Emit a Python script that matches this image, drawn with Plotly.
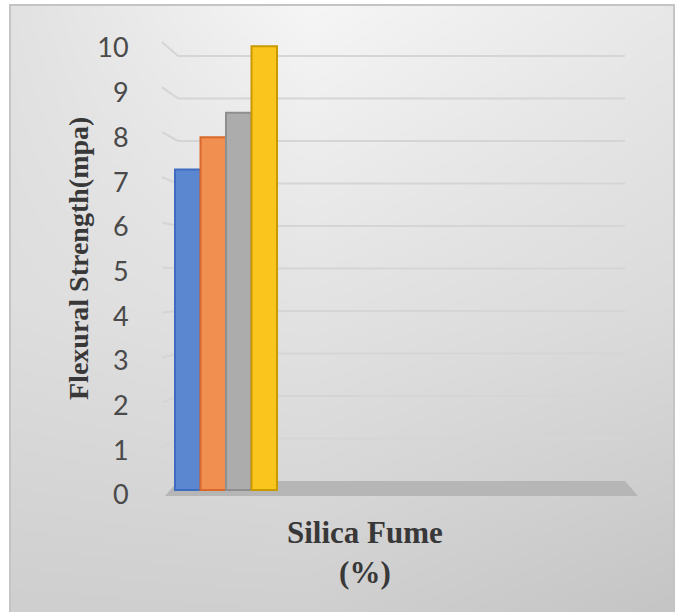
import base64
import struct
import zlib

import numpy as np
import plotly.graph_objects as go

# ---- data ---------------------------------------------------------------
series_names = ["Mix 1", "Mix 2", "Mix 3", "Mix 4"]
strength_values = [7.17, 7.89, 8.44, 9.93]          # flexural strength, MPa
tick_values = list(range(0, 11))

face_colors = ["#5b87d0", "#f08f4f", "#acacac", "#fac61e"]
edge_colors = ["#3f6cc0", "#d9692a", "#8e8e8e", "#c99a00"]

# ---- canvas / layout geometry (pixels) ----------------------------------
W, H = 677, 612
PLOT_L, PLOT_R = 165, 640          # x extent of the plotting area
PLOT_T, PLOT_B = 20, 500           # y extent of the plotting area
ZERO_PX, UNIT_PX = 490, 44.7       # front plane: pixel of value 0, px per unit
GROUP_CENTER_PX, GROUP_WIDTH_PX = 226, 102

# back wall of the 3-D box (perspective offset)
BACK_ZERO_PX, BACK_UNIT_PX = 481, 42.5
BACK_L, BACK_R = 178, 625
EDGE_ZERO_PX, EDGE_UNIT_PX, EDGE_X = 493, 45.1, 162
FLOOR_FRONT_PX, FLOOR_FRONT_L, FLOOR_FRONT_R = 496, 165, 638


def px(x):
    return x / W


def py(y):
    return 1 - y / H


def to_val(y_px):
    """pixel row -> value on the y axis"""
    return (ZERO_PX - y_px) / UNIT_PX


unit_px_x = GROUP_WIDTH_PX  # one category spans the bar group
x_left = -(GROUP_CENTER_PX - PLOT_L) / unit_px_x
x_right = x_left + (PLOT_R - PLOT_L) / unit_px_x
y_range = [to_val(PLOT_B), to_val(PLOT_T)]

# ---- soft grey background gradient as an embedded PNG -------------------
gx = np.linspace(0, 1, 160)
gy = np.linspace(0, 1, 160)
anchor_x = [0.0, 0.45, 1.0]
anchor_rows = {0.0: [226, 246, 232], 0.5: [222, 227, 219], 1.0: [207, 208, 197]}
rows = np.array([np.interp(gx, anchor_x, anchor_rows[k]) for k in (0.0, 0.5, 1.0)])
grad = np.empty((gy.size, gx.size))
for j in range(gx.size):
    grad[:, j] = np.interp(gy, [0.0, 0.5, 1.0], rows[:, j])
grad = np.clip(grad, 0, 255).astype(np.uint8)


def gray_png(arr):
    h, w = arr.shape
    raw = b"".join(b"\x00" + arr[i].tobytes() for i in range(h))

    def chunk(tag, data):
        return (struct.pack(">I", len(data)) + tag + data
                + struct.pack(">I", zlib.crc32(tag + data) & 0xFFFFFFFF))

    return (b"\x89PNG\r\n\x1a\n"
            + chunk(b"IHDR", struct.pack(">IIBBBBB", w, h, 8, 0, 0, 0, 0))
            + chunk(b"IDAT", zlib.compress(raw, 9))
            + chunk(b"IEND", b""))


bg_uri = "data:image/png;base64," + base64.b64encode(gray_png(grad)).decode()

# ---- bars ----------------------------------------------------------------
fig = go.Figure()
n = len(strength_values)
bar_w = 1.0 / n
for i, (name, val) in enumerate(zip(series_names, strength_values)):
    fig.add_trace(go.Bar(
        x=[0], y=[val], name=name,
        width=bar_w, offset=-0.5 + i * bar_w,
        marker=dict(color=face_colors[i], line=dict(color=edge_colors[i], width=2)),
        showlegend=False,
    ))

# ---- 3-D box decorations: floor, back-wall gridlines, side-wall stubs ----
shapes = []
shapes.append(dict(
    type="rect", xref="paper", yref="paper",
    x0=px(10), x1=px(674), y0=py(5), y1=py(H + 10),
    line=dict(color="#c4c4c4", width=2), fillcolor="rgba(0,0,0,0)", layer="below",
))
floor_front = to_val(FLOOR_FRONT_PX)
floor_back = to_val(BACK_ZERO_PX)
shapes.append(dict(
    type="path", xref="paper", yref="y", layer="below",
    path=(f"M {px(FLOOR_FRONT_L)},{floor_front} L {px(FLOOR_FRONT_R)},{floor_front} "
          f"L {px(BACK_R)},{floor_back} L {px(BACK_L)},{floor_back} Z"),
    fillcolor="#b6b6b6", line=dict(width=0),
))
for v in tick_values[1:]:
    back = to_val(BACK_ZERO_PX - BACK_UNIT_PX * v)
    edge = to_val(EDGE_ZERO_PX - EDGE_UNIT_PX * v)
    shapes.append(dict(type="line", xref="paper", yref="y", layer="below",
                       x0=px(BACK_L), x1=px(BACK_R), y0=back, y1=back,
                       line=dict(color="#d5d5d5", width=2)))
    shapes.append(dict(type="line", xref="paper", yref="y", layer="below",
                       x0=px(EDGE_X), x1=px(BACK_L), y0=edge, y1=back,
                       line=dict(color="#d5d5d5", width=2)))

fig.update_layout(
    width=W, height=H,
    autosize=False,
    margin=dict(l=0, r=0, t=0, b=0, pad=0, autoexpand=False),
    paper_bgcolor="white",
    plot_bgcolor="rgba(0,0,0,0)",
    barmode="overlay",
    shapes=shapes,
    images=[dict(source=bg_uri, xref="paper", yref="paper",
                 x=px(10), y=py(5), sizex=px(674) - px(10), sizey=py(5) - py(H),
                 xanchor="left", yanchor="top", sizing="stretch", layer="below")],
    xaxis=dict(domain=[px(PLOT_L), px(PLOT_R)], range=[x_left, x_right],
               automargin=False,
               showgrid=False, zeroline=False, showline=False,
               showticklabels=False, ticks=""),
    yaxis=dict(domain=[py(PLOT_B), py(PLOT_T)], range=y_range,
               automargin=False,
               tickvals=tick_values, ticktext=[str(t) for t in tick_values],
               showgrid=False, zeroline=False, showline=False,
               ticks="outside", ticklen=30, tickcolor="rgba(0,0,0,0)",
               ticklabelshift=5,
               tickfont=dict(family="Lato", size=27, color="#4a4a4a")),
    annotations=[
        dict(text="<b>Flexural Strength(mpa)</b>", xref="paper", yref="paper",
             x=px(78), y=py(259), textangle=-90, showarrow=False,
             xanchor="center", yanchor="middle",
             font=dict(family="Liberation Serif", size=28, color="#383838")),
        dict(text="<b>Silica Fume</b><br><b>(%)</b>", xref="paper", yref="paper",
             x=px(365), y=py(552), showarrow=False,
             xanchor="center", yanchor="middle",
             font=dict(family="Liberation Serif", size=31, color="#383838")),
    ],
)

fig.write_html("out.html")
